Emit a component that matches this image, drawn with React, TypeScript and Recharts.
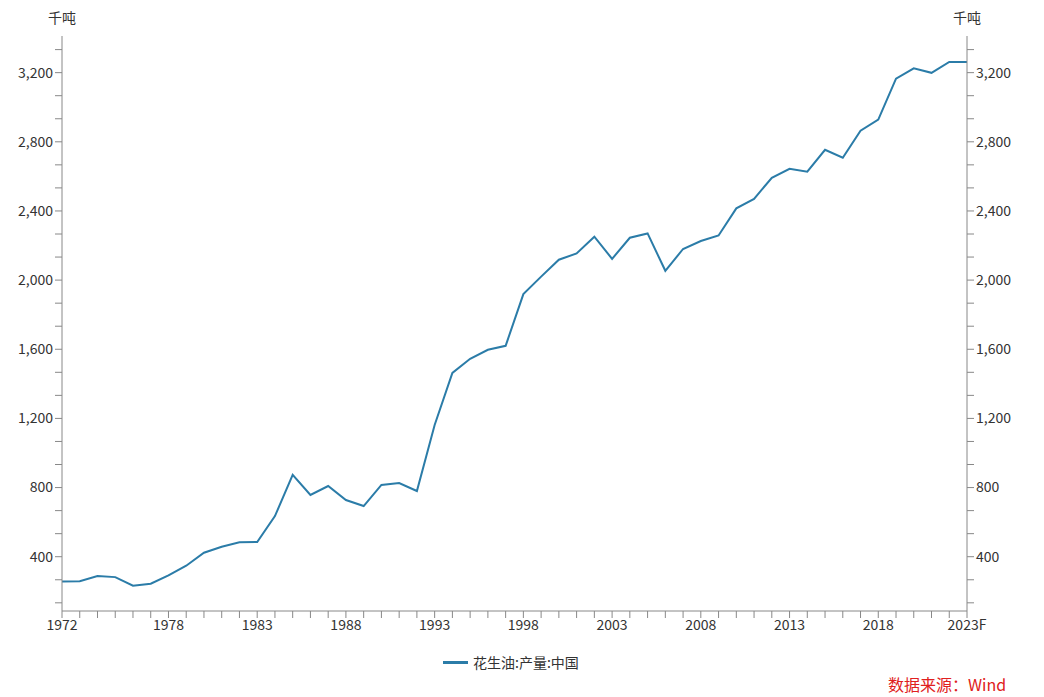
import React from "react"
import { LineChart, Line, XAxis, YAxis, CartesianGrid } from "recharts"

// 年份（2023 为预测值）
const years = [
  "1972", "1973", "1974", "1975", "1976", "1977", "1978", "1979", "1980", "1981",
  "1982", "1983", "1984", "1985", "1986", "1987", "1988", "1989", "1990", "1991",
  "1992", "1993", "1994", "1995", "1996", "1997", "1998", "1999", "2000", "2001",
  "2002", "2003", "2004", "2005", "2006", "2007", "2008", "2009", "2010", "2011",
  "2012", "2013", "2014", "2015", "2016", "2017", "2018", "2019", "2020", "2021",
  "2022", "2023F",
]

// 花生油:产量:中国（千吨）
const output = [
  256, 258, 288, 282, 232, 244, 292, 348, 423, 458,
  483, 485, 635, 873, 757, 809, 728, 693, 815, 826,
  780, 1162, 1463, 1545, 1597, 1620, 1919, 2020, 2118, 2154,
  2251, 2123, 2245, 2270, 2054, 2180, 2226, 2258, 2415, 2470,
  2592, 2644, 2627, 2754, 2708, 2864, 2928, 3165, 3225, 3199,
  3262, 3262,
]

const labelYears = ["1972", "1978", "1983", "1988", "1993", "1998", "2003", "2008", "2013", "2018", "2023F"]
const majorTicks = [400, 800, 1200, 1600, 2000, 2400, 2800, 3200]
const yDomain = [86, 3412]

const data = years.map((y, i) => ({ year: y, value: output[i] }))
const yTicks = Array.from({ length: 25 }, (_, i) => ((i + 1) * 400) / 3)

const FONT = "'Noto Sans CJK SC', 'Noto Sans', sans-serif"
const AXIS = "#888"
const LINE = "#2b7ca8"

const isMajor = (v: number) => Math.abs(v / 400 - Math.round(v / 400)) < 0.01

const YTick = (side: "left" | "right") => (props: any) => {
  const { x, y, payload } = props
  if (!isMajor(payload.value)) return <g />
  return (
    <text
      x={x}
      y={y}
      dy="0.35em"
      textAnchor={side === "left" ? "end" : "start"}
      fill="#333"
      fontSize={14}
      fontFamily={FONT}
    >
      {Math.round(payload.value).toLocaleString("en-US")}
    </text>
  )
}

const XTick = (props: any) => {
  const { x, y, payload } = props
  if (!labelYears.includes(payload.value)) return <g />
  return (
    <text x={x} y={y} dy="0.71em" textAnchor="middle" fill="#333" fontSize={14} fontFamily={FONT}>
      {payload.value}
    </text>
  )
}

export default function App() {
  return (
    <div style={{ position: "absolute", left: 0, top: 0, width: 1044, height: 697, background: "#fff", fontFamily: FONT }}>
      <LineChart width={1044} height={697} data={data} margin={{ top: 36, right: 0, left: 0, bottom: 56 }}>
        <CartesianGrid vertical={false} horizontalValues={majorTicks} stroke="#ddd" strokeDasharray="5 4" />
        <XAxis
          dataKey="year"
          interval={0}
          height={30}
          tick={XTick}
          tickSize={7}
          stroke={AXIS}
          padding={{ left: 0, right: 0 }}
        />
        <YAxis
          yAxisId="left"
          orientation="left"
          width={62}
          domain={yDomain}
          ticks={yTicks}
          allowDataOverflow
          tick={YTick("left")}
          tickSize={7}
          stroke={AXIS}
        />
        <YAxis
          yAxisId="right"
          orientation="right"
          width={77}
          domain={yDomain}
          ticks={yTicks}
          allowDataOverflow
          tick={YTick("right")}
          tickSize={7}
          stroke={AXIS}
        />
        <Line
          yAxisId="left"
          type="linear"
          dataKey="value"
          stroke={LINE}
          strokeWidth={2}
          dot={false}
          isAnimationActive={false}
        />
      </LineChart>
      <div style={{ position: "absolute", left: 48, top: 7, fontSize: 14, color: "#333" }}>千吨</div>
      <div style={{ position: "absolute", left: 953, top: 7, fontSize: 14, color: "#333" }}>千吨</div>
      <div style={{ position: "absolute", left: 443, top: 652, display: "flex", alignItems: "center", fontSize: 14, color: "#333" }}>
        <span style={{ display: "inline-block", width: 25, height: 3, background: LINE, marginRight: 5 }} />
        花生油:产量:中国
      </div>
      <div style={{ position: "absolute", left: 888, top: 672, fontSize: 16, color: "#e02020" }}>数据来源：Wind</div>
    </div>
  )
}
